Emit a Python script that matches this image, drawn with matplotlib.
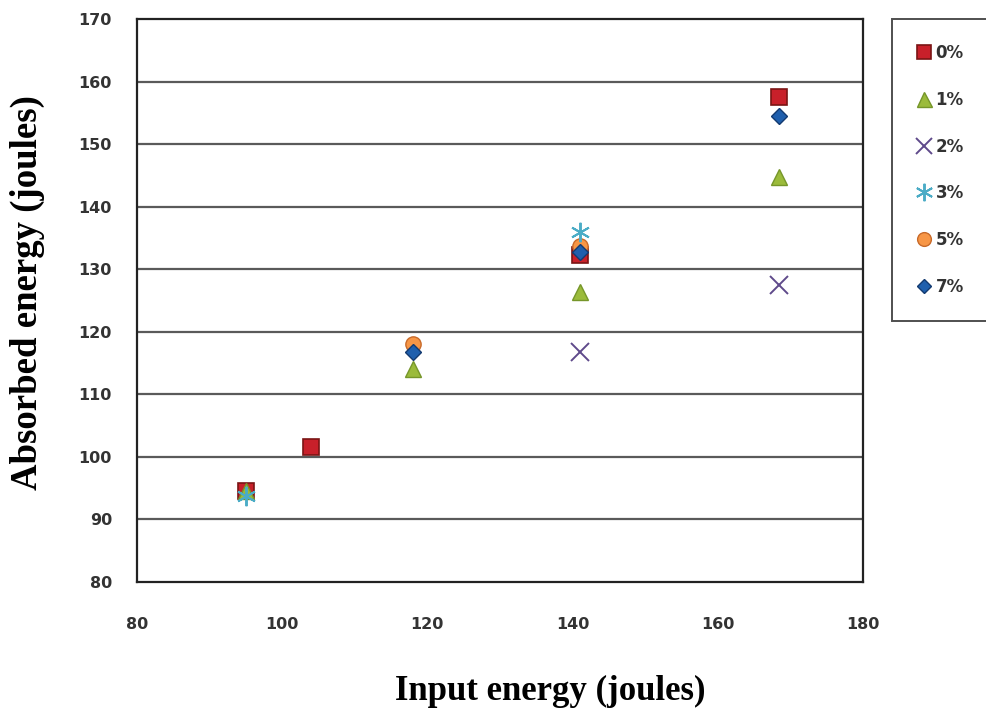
import numpy as np
import matplotlib
matplotlib.use('Agg')
import matplotlib.pyplot as plt

# data
x_0 = [95, 104, 141, 168.5]
y_0 = [94.5, 101.5, 132.3, 157.6]
x_1 = [95, 118, 141, 168.5]
y_1 = [94.5, 114.1, 126.4, 144.8]
x_2 = [141, 168.5]
y_2 = [116.8, 127.5]
x_3 = [95, 141]
y_3 = [93.8, 136.0]
x_5 = [118, 141]
y_5 = [118.1, 133.8]
x_7 = [118, 141, 168.5]
y_7 = [116.8, 132.8, 154.6]

fig = plt.figure(figsize=(9.86, 7.13), dpi=100)
ax = fig.add_axes([0.139, 0.184, 0.736, 0.789])

ax.set_xlim(80, 180)
ax.set_ylim(80, 170)
ax.set_xticks(np.arange(80, 181, 20))
ax.set_yticks(np.arange(80, 171, 10))
ax.tick_params(length=0, labelsize=11.5, labelcolor='#333333')
ax.tick_params(axis='x', pad=25)
ax.tick_params(axis='y', pad=18)
for lab in ax.get_xticklabels() + ax.get_yticklabels():
    lab.set_fontweight('bold')
for y in range(90, 161, 10):
    ax.axhline(y, color='#5a5a5a', lw=1.6, zorder=1)
for s in ax.spines.values():
    s.set_linewidth(1.6)
    s.set_color('#222222')

ax.plot(x_0, y_0, ls='none', marker='s', ms=11, mfc='#c8202a', mec='#7a1414', mew=1.2, label='0%', zorder=3)
ax.plot(x_1, y_1, ls='none', marker='^', ms=12, mfc='#9bbb3b', mec='#76962a', mew=1, label='1%', zorder=4)
ax.plot(x_2, y_2, ls='none', marker='x', ms=13, mec='#5f4a8b', mew=1.4, label='2%', zorder=4)
ax.plot(x_3, y_3, ls='none', marker=(6, 2, 0), ms=14, mec='#4bacc6', mew=1.4, label='3%', zorder=5)
ax.plot(x_5, y_5, ls='none', marker='o', ms=11, mfc='#f79646', mec='#c86a2a', mew=1, label='5%', zorder=4)
ax.plot(x_7, y_7, ls='none', marker='D', ms=8, mfc='#1f5fad', mec='#133a70', mew=1, label='7%', zorder=6)

ax.set_xlabel('Input energy (joules)', family='Liberation Serif', fontweight='bold', fontsize=25)
ax.xaxis.set_label_coords(0.569, -0.165)
ax.set_ylabel('Absorbed energy (joules)', family='Liberation Serif', fontweight='bold', fontsize=26.5)
ax.yaxis.set_label_coords(-0.127, 0.515)

leg = fig.legend(loc='upper left', bbox_to_anchor=(0.905, 0.973), borderaxespad=0, frameon=True, fancybox=False,
                 edgecolor='#222222', handlelength=0.8, handletextpad=0.3, labelspacing=1.72,
                 borderpad=1.5, markerscale=0.9, prop={'size': 12, 'weight': 'bold'})
leg.get_frame().set_linewidth(1.4)
for t in leg.get_texts():
    t.set_color('#333333')

fig.savefig('out.png', dpi=100)
